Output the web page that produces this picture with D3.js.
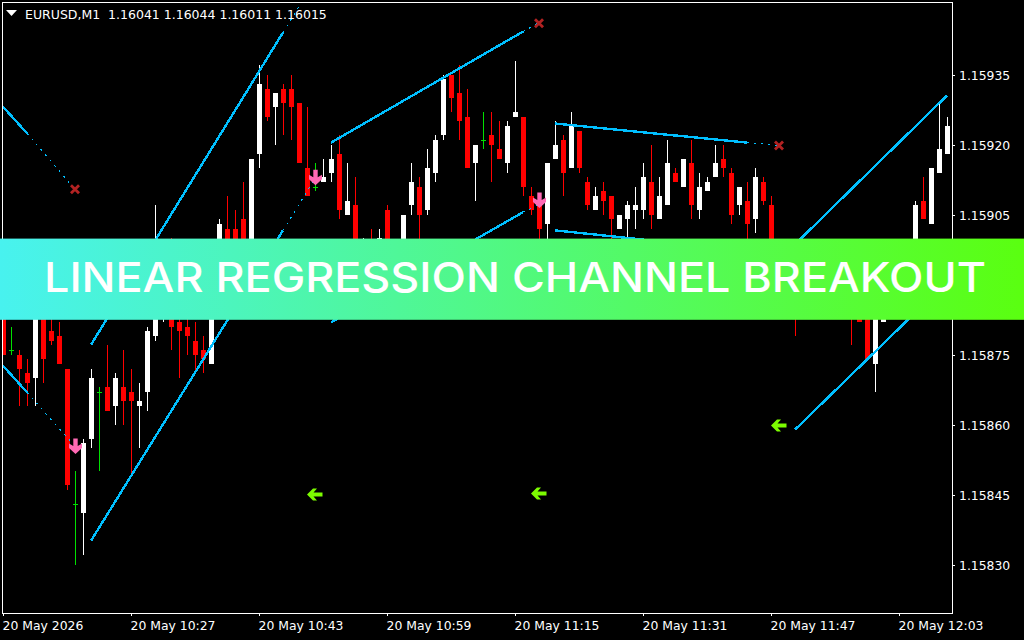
<!DOCTYPE html>
<html>
<head>
<meta charset="utf-8">
<style>
  html, body { margin: 0; padding: 0; background: #000; overflow: hidden; }
  svg { display: block; }
  text { font-family: "DejaVu Sans", sans-serif; fill: #fff; }
  .tick text { font-size: 12.4px; }
</style>
</head>
<body>
<svg id="chart" width="1024" height="640"></svg>
<script src="https://cdn.jsdelivr.net/npm/d3@7"></script>
<script>
//candle values, one entry per minute bar
const opens = [
  1.15887,1.15876,1.15875,1.15871,1.15870,1.15885,1.15880,1.15879,1.15872,1.15843,
  1.15841,1.15857,1.15867,1.15868,1.15864,1.15868,1.15867,1.15864,1.15867,1.15879,
  1.15887,1.15887,1.15882,1.15881,1.15878,1.15876,1.15873,1.15895,1.15902,1.15902,
  1.15904,1.15897,1.15918,1.15932,1.15928,1.15932,1.15932,1.15929,1.15915,1.15911,
  1.15912,1.15914,1.15918,1.15905,1.15907,1.15891,1.15897,1.15894,1.15906,1.15891,
  1.15893,1.15907,1.15911,1.15906,1.15914,1.15922,1.15935,1.15931,1.15926,1.15916,
  1.15921,1.15922,1.15919,1.15916,1.15926,1.15926,1.15909,1.15907,1.15903,1.15917,
  1.15921,1.15915,1.15923,1.15912,1.15906,1.15910,1.15909,1.15902,1.15904,1.15906,
  1.15906,1.15912,1.15904,1.15907,1.15914,1.15911,1.15916,1.15906,1.15910,1.15913,
  1.15917,1.15914,1.15907,1.15908,1.15904,1.15912,1.15907,1.15891,1.15895,1.15893,
  1.15888,1.15895,1.15891,1.15894,1.15889,1.15892,1.15891,1.15889,1.15887,1.15873,
  1.15882,1.15885,1.15895,1.15891,1.15895,1.15908,1.15903,1.15914,1.15918
];
const highs = [
  1.15887,1.15881,1.15876,1.15874,1.15886,1.15887,1.15885,1.15882,1.15872,1.15850,
  1.15857,1.15872,1.15868,1.15877,1.15871,1.15876,1.15872,1.15869,1.15881,1.15907,
  1.15897,1.15900,1.15890,1.15893,1.15882,1.15879,1.15895,1.15904,1.15909,1.15906,
  1.15912,1.15917,1.15937,1.15935,1.15931,1.15933,1.15935,1.15929,1.15928,1.15916,
  1.15917,1.15920,1.15922,1.15916,1.15913,1.15900,1.15902,1.15902,1.15907,1.15898,
  1.15905,1.15916,1.15913,1.15919,1.15922,1.15935,1.15935,1.15937,1.15932,1.15920,
  1.15927,1.15927,1.15925,1.15925,1.15938,1.15926,1.15911,1.15907,1.15916,1.15925,
  1.15922,1.15927,1.15923,1.15913,1.15911,1.15912,1.15909,1.15905,1.15908,1.15911,
  1.15916,1.15920,1.15913,1.15921,1.15915,1.15917,1.15921,1.15914,1.15913,1.15920,
  1.15920,1.15915,1.15911,1.15912,1.15915,1.15913,1.15909,1.15899,1.15898,1.15897,
  1.15895,1.15897,1.15898,1.15897,1.15896,1.15895,1.15893,1.15891,1.15888,1.15890,
  1.15891,1.15895,1.15897,1.15899,1.15908,1.15913,1.15915,1.15929,1.15926
];
const lows = [
  1.15875,1.15875,1.15864,1.15864,1.15864,1.15869,1.15877,1.15873,1.15846,1.15830,
  1.15832,1.15855,1.15850,1.15863,1.15860,1.15860,1.15849,1.15855,1.15863,1.15878,
  1.15882,1.15876,1.15870,1.15875,1.15871,1.15871,1.15873,1.15894,1.15891,1.15891,
  1.15889,1.15895,1.15915,1.15925,1.15920,1.15922,1.15921,1.15916,1.15909,1.15910,
  1.15912,1.15912,1.15904,1.15905,1.15893,1.15889,1.15891,1.15892,1.15893,1.15889,
  1.15891,1.15905,1.15897,1.15905,1.15912,1.15921,1.15927,1.15921,1.15915,1.15908,
  1.15919,1.15912,1.15917,1.15914,1.15926,1.15909,1.15905,1.15899,1.15899,1.15917,
  1.15909,1.15915,1.15914,1.15906,1.15906,1.15905,1.15897,1.15902,1.15899,1.15902,
  1.15904,1.15902,1.15904,1.15907,1.15912,1.15911,1.15904,1.15904,1.15910,1.15913,
  1.15913,1.15903,1.15905,1.15897,1.15901,1.15907,1.15893,1.15889,1.15887,1.15879,
  1.15886,1.15885,1.15888,1.15886,1.15885,1.15884,1.15877,1.15882,1.15874,1.15867,
  1.15882,1.15883,1.15885,1.15889,1.15893,1.15904,1.15903,1.15914,1.15918
];
const closes = [
  1.15875,1.15876,1.15872,1.15869,1.15885,1.15874,1.15878,1.15873,1.15847,1.15843,
  1.15856,1.15870,1.15867,1.15863,1.15870,1.15865,1.15865,1.15865,1.15880,1.15895,
  1.15893,1.15881,1.15880,1.15879,1.15875,1.15874,1.15891,1.15903,1.15893,1.15894,
  1.15891,1.15917,1.15933,1.15926,1.15931,1.15929,1.15928,1.15916,1.15909,1.15911,
  1.15913,1.15917,1.15906,1.15908,1.15895,1.15897,1.15893,1.15900,1.15895,1.15897,
  1.15905,1.15912,1.15905,1.15915,1.15921,1.15934,1.15930,1.15925,1.15915,1.15920,
  1.15921,1.15920,1.15917,1.15924,1.15927,1.15911,1.15906,1.15902,1.15916,1.15920,
  1.15914,1.15924,1.15915,1.15907,1.15909,1.15908,1.15904,1.15905,1.15907,1.15907,
  1.15913,1.15905,1.15909,1.15916,1.15912,1.15917,1.15907,1.15911,1.15912,1.15916,
  1.15915,1.15905,1.15911,1.15903,1.15913,1.15908,1.15895,1.15896,1.15890,1.15887,
  1.15893,1.15889,1.15895,1.15888,1.15893,1.15886,1.15885,1.15882,1.15874,1.15888,
  1.15889,1.15893,1.15889,1.15897,1.15907,1.15904,1.15915,1.15919,1.15924
];

//regression channels: bar where each starts, where the solid part stops, where the dotted part stops
const channelStart = [0, 11, 41, 69, 99];
const channelSolidEnd = [3, 35, 65, 93, 118];
const channelDottedEnd = [9, 39, 67, 97, 118];
const upperStart = [1.159281, 1.158771, 1.159204, 1.159245, 1.158986];
const upperSolidEnd = [1.159224, 1.15944, 1.159442, 1.159204, 1.159305];
const upperDottedEnd = [1.159104, 1.159551, 1.159461, 1.159198, 1.159305];
const lowerStart = [1.158726, 1.158351, 1.158819, 1.159016, 1.158589];
const lowerSolidEnd = [1.158669, 1.159016, 1.159055, 1.158973, 1.158906];
const lowerDottedEnd = [1.158553, 1.159127, 1.159071, 1.158965, 1.158906];

//signals drawn on the chart
const crossBars = [9, 67, 97];
const crossPrices = [1.159104, 1.15946, 1.159198];
const sellArrowBars = [9, 39, 67];
const sellArrowPrices = [1.158538, 1.159114, 1.159065];
const leftArrowBars = [39, 67, 97];
const leftArrowPrices = [1.15845, 1.158452, 1.158598];

//axis labels
const priceTicks = [1.15935, 1.1592, 1.15905, 1.1589, 1.15875, 1.1586, 1.15845, 1.1583];
const timeTickBars = [0, 16, 32, 48, 64, 80, 96, 112];
const timeTickLabels = ["20 May 2026", "20 May 10:27", "20 May 10:43", "20 May 10:59",
  "20 May 11:15", "20 May 11:31", "20 May 11:47", "20 May 12:03"];
const headerText = "EURUSD,M1  1.16041 1.16044 1.16011 1.16015";
const bannerText = "LINEAR REGRESSION CHANNEL BREAKOUT";

const width = 1024;
const height = 640;
const frame = { left: 2, top: 2, right: 952, bottom: 613 };
const bodyColor = { up: "#ffffff", down: "#ff0000", flat: "#00e000" };
const channelColor = "#00bfff";

const xScale = d3.scaleLinear().domain([0, 118]).range([3, 947]);
const yScale = d3.scaleLinear().domain([1.15935, 1.1583]).range([74.5, 564.5]);

const svg = d3.select("#chart");

svg.append("rect").attr("width", width).attr("height", height).attr("fill", "#000");

svg.append("defs").append("clipPath").attr("id", "plot")
  .append("rect")
  .attr("x", frame.left)
  .attr("y", frame.top)
  .attr("width", frame.right - frame.left)
  .attr("height", frame.bottom - frame.top);

const plot = svg.append("g").attr("clip-path", "url(#plot)");

//candles
const bars = opens.map((open, i) => ({ i, open, high: highs[i], low: lows[i], close: closes[i] }));
const barColor = d => d.close > d.open ? bodyColor.up : d.close < d.open ? bodyColor.down : bodyColor.flat;

const candle = plot.append("g").attr("shape-rendering", "crispEdges")
  .selectAll("g").data(bars).join("g")
  .attr("transform", d => `translate(${xScale(d.i)},0)`);

candle.append("rect")
  .attr("x", 0)
  .attr("width", 1)
  .attr("y", d => yScale(d.high))
  .attr("height", d => yScale(d.low) - yScale(d.high))
  .attr("fill", barColor);

candle.append("rect")
  .attr("x", -2)
  .attr("width", 5)
  .attr("y", d => yScale(Math.max(d.open, d.close)))
  .attr("height", d => Math.max(1, Math.abs(yScale(d.open) - yScale(d.close))))
  .attr("fill", barColor);

//channels, solid over the fitted part and dotted over the extension
const channelLine = d3.line().x(d => xScale(d[0])).y(d => yScale(d[1]));
const channels = channelStart.map((start, i) => ({
  solid: [
    [[start, upperStart[i]], [channelSolidEnd[i], upperSolidEnd[i]]],
    [[start, lowerStart[i]], [channelSolidEnd[i], lowerSolidEnd[i]]]
  ],
  dotted: [
    [[channelSolidEnd[i], upperSolidEnd[i]], [channelDottedEnd[i], upperDottedEnd[i]]],
    [[channelSolidEnd[i], lowerSolidEnd[i]], [channelDottedEnd[i], lowerDottedEnd[i]]]
  ]
}));

plot.append("g").selectAll("path")
  .data(channels.flatMap(c => c.solid)).join("path")
  .attr("d", channelLine)
  .attr("fill", "none")
  .attr("stroke", channelColor)
  .attr("stroke-width", 2.4)
  .attr("shape-rendering", "crispEdges");

plot.append("g").selectAll("path")
  .data(channels.flatMap(c => c.dotted)).join("path")
  .attr("d", channelLine)
  .attr("fill", "none")
  .attr("stroke", channelColor)
  .attr("stroke-width", 1)
  .attr("stroke-dasharray", "2 5")
  .attr("shape-rendering", "crispEdges");

//signal markers
plot.append("g").selectAll("path")
  .data(crossBars).join("path")
  .attr("transform", (d, i) => `translate(${xScale(d)},${yScale(crossPrices[i])})`)
  .attr("d", d3.symbol(d3.symbolTimes, 44))
  .attr("fill", "none")
  .attr("stroke", "#b22222")
  .attr("stroke-width", 2.8);

plot.append("g").selectAll("path")
  .data(sellArrowBars).join("path")
  .attr("transform", (d, i) => `translate(${xScale(d) + 0.5},${yScale(sellArrowPrices[i])})`)
  .attr("d", "M-2.2,-15L2.2,-15L2.2,-7.5L6.5,-10L6.5,-5.5L0,0.5L-6.5,-5.5L-6.5,-10L-2.2,-7.5Z")
  .attr("fill", "#ff69b4");

plot.append("g").selectAll("path")
  .data(leftArrowBars).join("path")
  .attr("transform", (d, i) => `translate(${xScale(d)},${yScale(leftArrowPrices[i])})`)
  .attr("d", "M-8,0L-2,-6L2,-6L-1.5,-2L7.5,-2L7.5,2L-1.5,2L2,6L-2,6Z")
  .attr("fill", "#7cfc00");

//frame
svg.append("rect")
  .attr("x", frame.left + 0.5)
  .attr("y", frame.top + 0.5)
  .attr("width", frame.right - frame.left)
  .attr("height", frame.bottom - frame.top)
  .attr("fill", "none")
  .attr("stroke", "#fff")
  .attr("shape-rendering", "crispEdges");

//axes
const yAxis = d3.axisRight(yScale)
  .tickValues(priceTicks)
  .tickFormat(d3.format(".5f"))
  .tickSizeInner(3)
  .tickSizeOuter(0)
  .tickPadding(4);

const xAxis = d3.axisBottom(xScale)
  .tickValues(timeTickBars)
  .tickFormat((d, i) => timeTickLabels[i])
  .tickSizeInner(3)
  .tickSizeOuter(0)
  .tickPadding(5);

const yAxisG = svg.append("g").attr("transform", `translate(${frame.right},0)`).call(yAxis);
const xAxisG = svg.append("g").attr("transform", `translate(0,${frame.bottom})`).call(xAxis);

[yAxisG, xAxisG].forEach(g => {
  g.attr("font-family", null).attr("font-size", null);
  g.select(".domain").remove();
  g.selectAll(".tick line").attr("stroke", "#fff").attr("shape-rendering", "crispEdges");
});
yAxisG.selectAll(".tick text").attr("y", 1);
xAxisG.selectAll(".tick text").attr("text-anchor", "start").attr("x", -1);

//header
svg.append("path").attr("d", "M6,10L17,10L11.5,16Z").attr("fill", "#fff");
svg.append("text")
  .attr("x", 25)
  .attr("y", 19)
  .attr("font-size", 12.5)
  .style("white-space", "pre")
  .text(headerText);

//banner on top of the chart
const gradient = svg.select("defs").append("linearGradient").attr("id", "banner");
gradient.append("stop").attr("offset", 0).attr("stop-color", "#48f2ef");
gradient.append("stop").attr("offset", 1).attr("stop-color", "#5aff10");

svg.append("rect")
  .attr("x", 0)
  .attr("y", 238.6)
  .attr("width", width)
  .attr("height", 81.2)
  .attr("fill", "url(#banner)");

svg.append("text")
  .attr("x", 44)
  .attr("y", 292.4)
  .attr("textLength", 942)
  .attr("lengthAdjust", "spacingAndGlyphs")
  .style("font-family", "Inter, sans-serif")
  .style("font-weight", 500)
  .style("font-size", "41px")
  .text(bannerText);
</script>
</body>
</html>
